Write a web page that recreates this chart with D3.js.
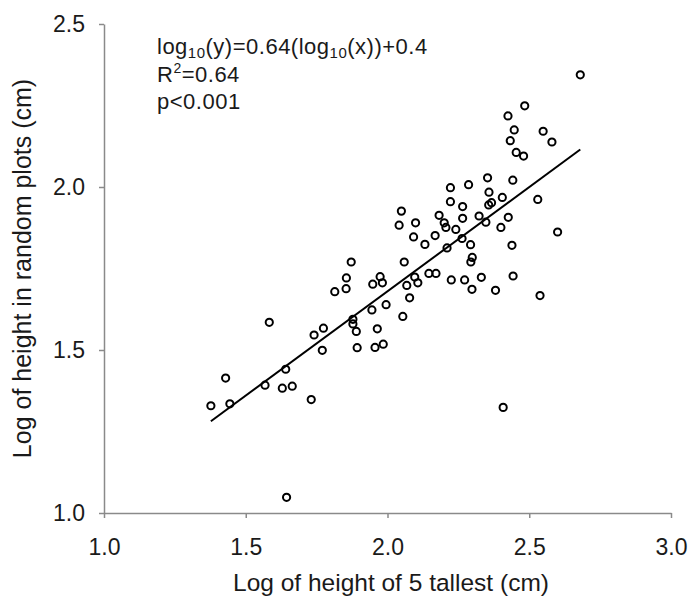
<!DOCTYPE html>
<html>
<head>
<meta charset="utf-8">
<script src="https://cdn.jsdelivr.net/npm/d3@7"></script>
<style>
  html, body { margin: 0; padding: 0; background: #fff; }
  text { font-family: "Liberation Sans", Arial, sans-serif; }
</style>
</head>
<body>
<svg id="chart" width="691" height="599"></svg>
<script>
// ---- data ----
const xTallest = [
  1.377, 1.444, 1.429, 1.583, 1.568, 1.641, 1.629, 1.664, 1.731, 1.741,
  1.774, 1.770, 1.814, 1.854, 1.855, 1.878, 1.878, 1.890, 1.893, 1.945,
  1.948, 1.964, 1.956, 1.985, 1.974, 1.982, 1.995, 2.054, 2.078, 2.068,
  2.107, 2.096, 2.146, 2.171, 2.059, 1.872, 2.132, 2.168, 2.092, 2.041,
  2.099, 2.049, 2.182, 2.200, 2.206, 2.210, 2.222, 2.286, 2.353, 2.442,
  2.358, 2.222, 2.265, 2.405, 2.357, 2.367, 2.241, 2.265, 2.323, 2.347,
  2.426, 2.400, 2.263, 2.293, 2.439, 2.299, 2.294, 2.225, 2.272, 2.331,
  2.443, 2.298, 2.381, 2.454, 2.480, 2.680, 2.484, 2.425, 2.447, 2.549,
  2.433, 2.580, 2.530, 2.600, 2.538, 2.408, 1.644
];
const yRandom = [
  1.329, 1.335, 1.414, 1.585, 1.392, 1.441, 1.383, 1.389, 1.348, 1.546,
  1.567, 1.499, 1.679, 1.688, 1.721, 1.594, 1.580, 1.557, 1.507, 1.623,
  1.702, 1.565, 1.508, 1.518, 1.725, 1.706, 1.639, 1.603, 1.660, 1.698,
  1.706, 1.724, 1.735, 1.735, 1.770, 1.770, 1.824, 1.851, 1.847, 1.883,
  1.890, 1.926, 1.913, 1.890, 1.876, 1.813, 1.998, 2.007, 2.028, 2.021,
  1.984, 1.955, 1.940, 1.968, 1.945, 1.952, 1.870, 1.904, 1.911, 1.892,
  1.907, 1.876, 1.842, 1.823, 1.821, 1.784, 1.770, 1.715, 1.715, 1.723,
  1.727, 1.686, 1.683, 2.106, 2.095, 2.344, 2.249, 2.218, 2.175, 2.171,
  2.142, 2.138, 1.962, 1.862, 1.667, 1.324, 1.048
];
const xTicks = [1.0, 1.5, 2.0, 2.5, 3.0];
const yTicks = [1.0, 1.5, 2.0, 2.5];
const fitSlope = 0.64;
const fitIntercept = 0.4;
const xLabel = "Log of height of 5 tallest (cm)";
const yLabel = "Log of height in random plots (cm)";

// ---- layout ----
const svg = d3.select("#chart");
const x = d3.scaleLinear().domain([1.0, 3.0]).range([104, 671]);
const y = d3.scaleLinear().domain([1.0, 2.5]).range([513, 24]);
const axisColor = "#8a8a8a";
const textColor = "#1a1a1a";

// x axis
const gx = svg.append("g").attr("transform", `translate(0,${y(1.0)})`)
  .call(d3.axisBottom(x).tickValues(xTicks).tickFormat(d3.format(".1f"))
        .tickSizeInner(5).tickSizeOuter(0).tickPadding(21));
gx.select(".domain").attr("stroke", axisColor).attr("stroke-width", 1.5);
gx.selectAll(".tick line").attr("stroke", axisColor).attr("stroke-width", 1.5);
gx.selectAll(".tick text").attr("font-size", 23).attr("fill", textColor)
  .attr("font-family", "Liberation Sans, Arial, sans-serif");

// y axis
const gy = svg.append("g").attr("transform", `translate(${x(1.0)},0)`)
  .call(d3.axisLeft(y).tickValues(yTicks).tickFormat(d3.format(".1f"))
        .tickSizeInner(5).tickSizeOuter(0).tickPadding(14));
gy.select(".domain").attr("stroke", axisColor).attr("stroke-width", 1.5);
gy.selectAll(".tick line").attr("stroke", axisColor).attr("stroke-width", 1.5);
gy.selectAll(".tick text").attr("font-size", 23).attr("fill", textColor)
  .attr("font-family", "Liberation Sans, Arial, sans-serif");

// axis titles
svg.append("text")
  .attr("x", 391).attr("y", 591)
  .attr("text-anchor", "middle")
  .attr("font-size", 24.5).attr("fill", textColor)
  .text(xLabel);

svg.append("text")
  .attr("transform", `translate(31,${(y(1.0) + y(2.5)) / 2}) rotate(-90)`)
  .attr("text-anchor", "middle")
  .attr("font-size", 25).attr("fill", textColor)
  .text(yLabel);

// regression line
const xMin = d3.min(xTallest), xMax = d3.max(xTallest);
svg.append("line")
  .attr("x1", x(xMin)).attr("y1", y(fitSlope * xMin + fitIntercept))
  .attr("x2", x(xMax)).attr("y2", y(fitSlope * xMax + fitIntercept))
  .attr("stroke", "#000").attr("stroke-width", 2);

// points
const pts = xTallest.map((v, i) => ({ x: v, y: yRandom[i] }));
svg.append("g").selectAll("circle").data(pts).join("circle")
  .attr("cx", d => x(d.x)).attr("cy", d => y(d.y))
  .attr("r", 3.6)
  .attr("fill", "none").attr("stroke", "#000").attr("stroke-width", 2);

// annotation
const ann = svg.append("g").attr("font-size", 22).attr("fill", textColor)
  .attr("letter-spacing", 0.5);
const t1 = ann.append("text").attr("x", 157).attr("y", 54);
t1.append("tspan").text("log");
t1.append("tspan").attr("font-size", 15).attr("dy", 4).text("10");
t1.append("tspan").attr("dy", -4).text("(y)=0.64(log");
t1.append("tspan").attr("font-size", 15).attr("dy", 4).text("10");
t1.append("tspan").attr("dy", -4).text("(x))+0.4");

const t2 = ann.append("text").attr("x", 157).attr("y", 82);
t2.append("tspan").text("R");
t2.append("tspan").attr("font-size", 14).attr("dy", -9).text("2");
t2.append("tspan").attr("dy", 9).text("=0.64");

ann.append("text").attr("x", 157).attr("y", 109).text("p<0.001");
</script>
</body>
</html>
